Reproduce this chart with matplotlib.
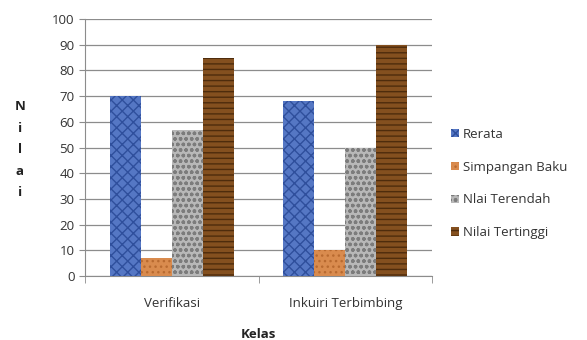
import matplotlib.pyplot as plt
import numpy as np

plt.rcParams['font.family'] = ['Open Sans', 'DejaVu Sans']

kelas = ['Verifikasi', 'Inkuiri Terbimbing']
series = ['Rerata', 'Simpangan Baku', 'Nlai Terendah', 'Nilai Tertinggi']
rerata = [70, 68]
simpangan = [7, 10]
terendah = [57, 50]
tertinggi = [85, 90]

values = [rerata, simpangan, terendah, tertinggi]
faces = ['#5577c4', '#d98b4e', '#b8b8b8', '#84501f']
edges = ['#2f4f9c', '#b86a30', '#7c7c7c', '#4e2c0c']
hatches = ['xxx', '...', 'ooo', '---']

fig = plt.figure(figsize=(5.87, 3.40), dpi=100)
ax = fig.add_axes([0.145, 0.188, 0.591, 0.756])

x = np.arange(len(kelas))
w = 0.179
for i, (vals, name) in enumerate(zip(values, series)):
    ax.bar(x + (i - 1.5) * w, vals, w, color=faces[i], edgecolor=edges[i],
           hatch=hatches[i], linewidth=0, label=name, zorder=3)

ax.set_xlim(-0.5, 1.5)
ax.set_ylim(0, 100)
ax.set_yticks(range(0, 101, 10))
ax.yaxis.grid(True, color='#8c8c8c', linewidth=0.9, zorder=0)
ax.set_xticks(x)
ax.set_xticklabels(kelas, fontsize=9.5, color='#333333')
ax.set_xticks([-0.5, 0.5, 1.5], minor=True)
ax.tick_params(axis='x', which='major', length=0, pad=15)
ax.tick_params(axis='x', which='minor', length=5, color='#8c8c8c')
ax.tick_params(axis='y', labelsize=9.5, length=4, color='#8c8c8c', labelcolor='#333333')
for s in ['top', 'right']:
    ax.spines[s].set_visible(False)
ax.spines['left'].set_color('#8c8c8c')
ax.spines['bottom'].set_color('#8c8c8c')

fig.text(0.034, 0.56, 'N\ni\nl\na\ni', fontsize=9.5, fontweight='bold', ha='center', va='center',
         linespacing=1.85, color='#222222')
fig.text(0.44, 0.005, 'Kelas', fontsize=9.5, fontweight='bold', ha='center', color='#222222')

leg = ax.legend(loc='center left', bbox_to_anchor=(1.02, 0.36), frameon=False, fontsize=9.5,
                handlelength=0.6, handleheight=0.6, handletextpad=0.3, labelspacing=1.5)
for t in leg.get_texts():
    t.set_color('#333333')

fig.savefig('out.png', dpi=100)
